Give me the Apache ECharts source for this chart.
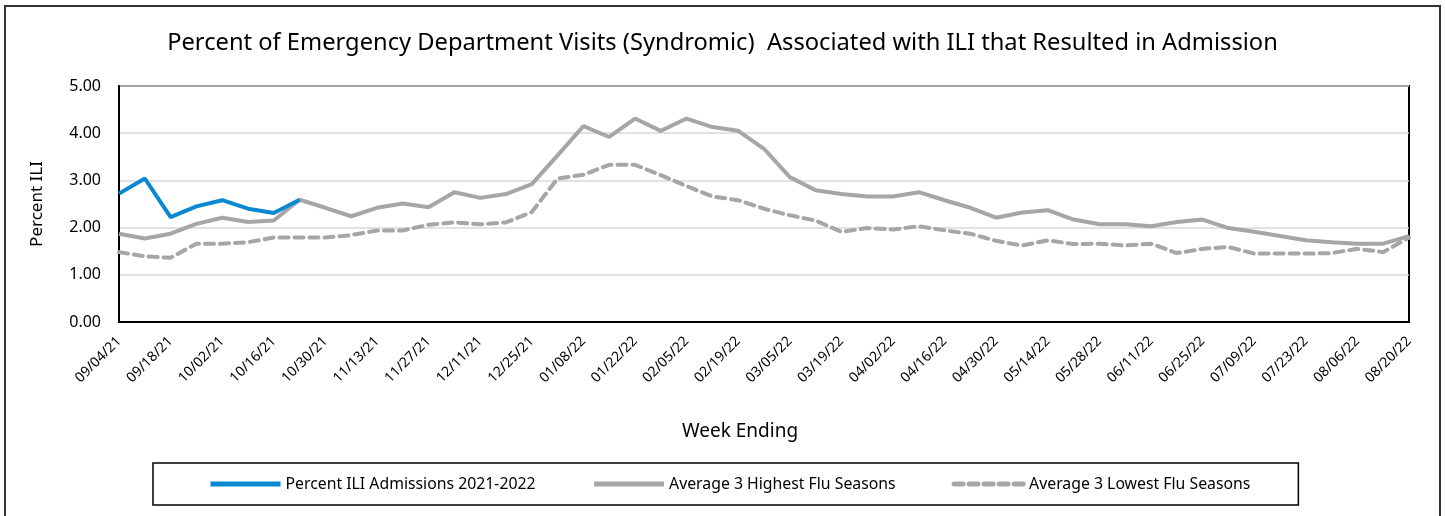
<!DOCTYPE html>
<html>
<head>
<meta charset="utf-8">
<script src="https://cdn.jsdelivr.net/npm/echarts@6/dist/echarts.min.js"></script>
<style>
  html, body { margin: 0; padding: 0; background: #fff; }
  #frame { position: absolute; left: 4px; top: 5px; width: 1437px; height: 520px; border: 2px solid #333; box-sizing: border-box; }
  #chart { position: absolute; left: 0; top: 0; width: 1445px; height: 516px; }
</style>
</head>
<body>
<div id="frame"></div>
<div id="chart"></div>
<script>
// week ending dates
const weeks = ['09/04/21', '09/11/21', '09/18/21', '09/25/21', '10/02/21', '10/09/21', '10/16/21', '10/23/21',
  '10/30/21', '11/06/21', '11/13/21', '11/20/21', '11/27/21', '12/04/21', '12/11/21', '12/18/21', '12/25/21',
  '01/01/22', '01/08/22', '01/15/22', '01/22/22', '01/29/22', '02/05/22', '02/12/22', '02/19/22', '02/26/22',
  '03/05/22', '03/12/22', '03/19/22', '03/26/22', '04/02/22', '04/09/22', '04/16/22', '04/23/22', '04/30/22',
  '05/07/22', '05/14/22', '05/21/22', '05/28/22', '06/04/22', '06/11/22', '06/18/22', '06/25/22', '07/02/22',
  '07/09/22', '07/16/22', '07/23/22', '07/30/22', '08/06/22', '08/13/22', '08/20/22'];

const current = [2.72, 3.04, 2.22, 2.45, 2.58, 2.40, 2.31, 2.59];

const highest = [1.87, 1.77, 1.87, 2.08, 2.21, 2.12, 2.15, 2.59, 2.42, 2.24, 2.42, 2.51, 2.43,
  2.75, 2.63, 2.71, 2.92, 3.53, 4.15, 3.92, 4.31, 4.05, 4.31, 4.13, 4.05,
  3.67, 3.07, 2.79, 2.71, 2.66, 2.66, 2.75, 2.58, 2.42, 2.21, 2.32, 2.37, 2.17,
  2.07, 2.07, 2.03, 2.12, 2.17, 1.99, 1.91, 1.82, 1.73, 1.69, 1.66, 1.66, 1.82];

const lowest = [1.48, 1.39, 1.36, 1.66, 1.66, 1.69, 1.79, 1.79, 1.79, 1.84, 1.94, 1.94, 2.06,
  2.11, 2.07, 2.11, 2.33, 3.04, 3.12, 3.33, 3.33, 3.11, 2.88, 2.66, 2.58,
  2.40, 2.26, 2.15, 1.91, 1.99, 1.96, 2.03, 1.94, 1.87, 1.72, 1.62, 1.73, 1.65,
  1.66, 1.62, 1.66, 1.46, 1.55, 1.59, 1.45, 1.45, 1.45, 1.46, 1.55, 1.48, 1.79];

const seriesNames = ['Percent ILI Admissions 2021-2022', 'Average 3 Highest Flu Seasons', 'Average 3 Lowest Flu Seasons'];

const FONT = 'Noto Sans';
const chart = echarts.init(document.getElementById('chart'));

chart.setOption({
  animation: false,
  textStyle: { fontFamily: FONT, color: '#000' },
  title: {
    text: 'Percent of Emergency Department Visits (Syndromic)  Associated with ILI that Resulted in Admission',
    left: 'center',
    top: 26,
    textStyle: { fontFamily: FONT, fontSize: 23.7, fontWeight: 'normal', color: '#000' }
  },
  grid: {
    left: 119, right: 36, top: 86, bottom: 194,
    show: true, borderColor: '#000', borderWidth: 2
  },
  legend: {
    data: seriesNames,
    left: 153,
    top: 463,
    itemWidth: 70,
    itemHeight: 14,
    itemGap: 56,
    padding: [13, 48, 13, 55],
    borderColor: '#000',
    borderWidth: 1.5,
    itemStyle: { opacity: 0 },
    lineStyle: { width: 5 },
    textStyle: { fontFamily: FONT, fontSize: 15.8, color: '#000' }
  },
  xAxis: {
    type: 'category',
    data: weeks,
    boundaryGap: false,
    name: 'Week Ending',
    nameLocation: 'middle',
    nameGap: 100,
    nameTextStyle: { fontFamily: FONT, fontSize: 19, color: '#000', padding: [0, 48, 0, 0] },
    axisLine: { lineStyle: { color: '#000', width: 2 } },
    axisTick: { show: false },
    axisLabel: { interval: 1, rotate: 45, fontSize: 14, color: '#000', margin: 17 },
    splitLine: { show: false }
  },
  yAxis: {
    type: 'value',
    min: 0, max: 5, interval: 1,
    name: 'Percent ILI',
    nameLocation: 'middle',
    nameGap: 73,
    nameTextStyle: { fontFamily: FONT, fontSize: 17, color: '#000' },
    axisLine: { show: true, lineStyle: { color: '#000', width: 2 } },
    axisTick: { show: false },
    axisLabel: { fontSize: 16, color: '#000', margin: 18, formatter: v => v.toFixed(2) },
    splitLine: { lineStyle: { color: '#d9d9d9', width: 1.5 } }
  },
  series: [
    {
      name: seriesNames[0], type: 'line', data: current,
      showSymbol: false, symbol: 'none',
      lineStyle: { color: '#0a89d2', width: 4 }, itemStyle: { color: '#0a89d2' }, z: 5
    },
    {
      name: seriesNames[1], type: 'line', data: highest,
      showSymbol: false, symbol: 'none',
      lineStyle: { color: '#a6a6a6', width: 4 }, itemStyle: { color: '#a6a6a6' }, z: 3
    },
    {
      name: seriesNames[2], type: 'line', data: lowest,
      showSymbol: false, symbol: 'none',
      lineStyle: { color: '#a6a6a6', width: 4, type: [9, 6], cap: 'round' }, itemStyle: { color: '#a6a6a6' }, z: 2
    }
  ]
});
</script>
</body>
</html>
